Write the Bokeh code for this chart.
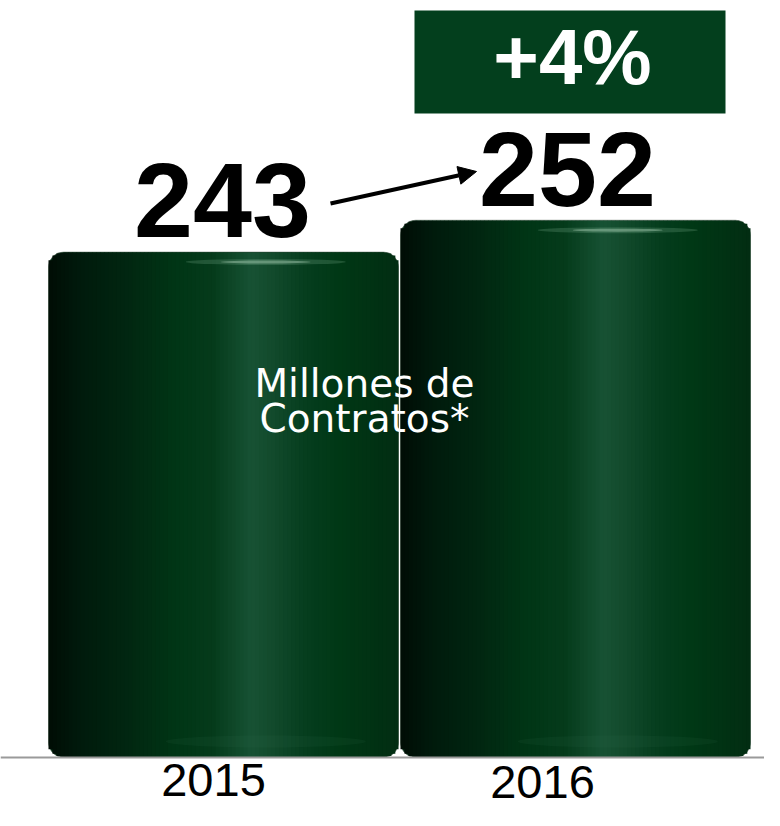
from bokeh.plotting import figure
from bokeh.models import Range1d, Span, BoxAnnotation, Arrow, NormalHead, Label
from bokeh.core.properties import value
from bokeh.embed import file_html
from bokeh.resources import INLINE

# ---------------- data ----------------
years = ["2015", "2016"]
contracts = [243, 252]          # millones de contratos
value_labels = ["243", "252"]
growth_label = "+4%"
unit_lines = ["Millones de", "Contratos*"]
axis_base = 100                 # value axis starts at 100

# ---------------- layout / style ----------------
FIG_W, FIG_H = 764, 810
PX_X = 352.0     # pixels per category step
PX_Y = 3.535     # pixels per value unit
ORG_X, ORG_Y = 223, 757   # pixel of (category 0, axis_base)
X0, X1 = -ORG_X / PX_X, (FIG_W - ORG_X) / PX_X
Y1, Y0 = axis_base + ORG_Y / PX_Y, axis_base - (FIG_H - ORG_Y) / PX_Y


def px2x(px):
    return X0 + px / PX_X


def px2y(py):
    return Y1 - py / PX_Y


BAR_PX = 350
BAR_W = BAR_PX / PX_X
R = 15  # corner radius px

stops = [(0.00, "#000d05"), (0.09, "#001a0c"), (0.26, "#012a12"), (0.36, "#003515"),
         (0.47, "#053b1b"), (0.58, "#175234"), (0.64, "#124a2c"), (0.74, "#053d1d"),
         (0.83, "#003815"), (1.00, "#022d12")]


def hex2rgb(h):
    h = h.lstrip("#")
    return tuple(int(h[i:i + 2], 16) for i in (0, 2, 4))


def grad(t):
    for (t0, c0), (t1, c1) in zip(stops[:-1], stops[1:]):
        if t0 <= t <= t1:
            f = (t - t0) / (t1 - t0) if t1 > t0 else 0
            a, b = hex2rgb(c0), hex2rgb(c1)
            return "#%02x%02x%02x" % tuple(int(round(a[k] + (b[k] - a[k]) * f)) for k in range(3))
    return stops[-1][1]


p = figure(width=FIG_W, height=FIG_H, x_range=Range1d(X0, X1), y_range=Range1d(Y0, Y1),
           output_backend="svg", toolbar_location=None, min_border=0)
p.axis.visible = False
p.grid.visible = False
p.outline_line_color = None
p.background_fill_color = "white"

idx = list(range(len(years)))

# base bars with rounded corners
p.vbar(x=idx, width=BAR_W, top=contracts, bottom=axis_base, fill_color="#012a12",
       line_color="#7d8a80", line_width=0.6, border_radius=R)

# horizontal gradient as thin strips
N = 88
L, Rr, T, B, C = [], [], [], [], []
for i, v in zip(idx, contracts):
    left = i - BAR_W / 2
    wpx = BAR_PX / N
    for k in range(N):
        cx = (k + 0.5) * wpx
        d = min(cx, BAR_PX - cx)
        inset = 0.0
        if d < R:
            inset = R - (R ** 2 - (R - d) ** 2) ** 0.5
        L.append(left + k * wpx / PX_X)
        Rr.append(left + (k + 1) * wpx / PX_X + (0.8 / PX_X if k < N - 1 else 0))
        T.append(v - (inset + 0.6) / PX_Y)
        B.append(axis_base + (inset + 0.6) / PX_Y)
        C.append(grad(cx / BAR_PX))
p.quad(left=L, right=Rr, top=T, bottom=B, fill_color=C, line_color=None)

# top gloss
gx = [i + 0.12 for i in idx]
p.ellipse(x=gx, y=[v - 10 / PX_Y for v in contracts],
          width=160 / PX_X, height=6 / PX_Y, fill_color="#8fc0a0", fill_alpha=0.22, line_color=None)
p.ellipse(x=gx, y=[v - 10 / PX_Y for v in contracts],
          width=90 / PX_X, height=3 / PX_Y, fill_color="#b8dcc4", fill_alpha=0.4, line_color=None)
# bottom glow
p.ellipse(x=gx, y=[axis_base + 16 / PX_Y for _ in contracts],
          width=200 / PX_X, height=12 / PX_Y, fill_color="#3f7a58", fill_alpha=0.10, line_color=None)

# baseline
p.add_layout(Span(location=axis_base, dimension="width", line_color="#9a9a9a", line_width=2))

# value labels
p.text(x=idx, y=contracts, text=value_labels, x_offset=[-1, -8], y_offset=-51,
       text_align="center", text_baseline="alphabetic", text_font=value("Liberation Sans"),
       text_font_style="bold", text_font_size="106px", text_color="black")

# year labels
p.text(x=idx, y=[axis_base] * len(idx), text=years, x_offset=[-10, -33], y_offset=[22, 24],
       text_align="center", text_baseline="alphabetic", text_font=value("Liberation Sans"),
       text_font_size="47px", text_color="black")

# growth box
p.add_layout(BoxAnnotation(left=px2x(414), right=px2x(725), top=px2y(10), bottom=px2y(113),
                           fill_color="#033f1d", fill_alpha=1, line_color=None))
p.add_layout(Label(x=px2x(572), y=px2y(56), text=growth_label, text_align="center",
                   text_baseline="alphabetic", text_font="Liberation Sans", text_font_style="bold",
                   text_font_size="78px", text_color="white"))

# arrow
p.add_layout(Arrow(x_start=px2x(330), y_start=px2y(203), x_end=px2x(476), y_end=px2y(171),
                   line_color="black", line_width=4,
                   end=NormalHead(size=18, fill_color="black", line_color="black", line_width=1)))

# unit text
for line, base_px in zip(unit_lines, [383, 418]):
    p.add_layout(Label(x=px2x(364), y=px2y(base_px), text=line, text_align="center",
                       text_baseline="alphabetic", text_font="DejaVu Sans",
                       text_font_size="39px", text_color="white"))

open("out.html", "w").write(file_html(p, INLINE))
